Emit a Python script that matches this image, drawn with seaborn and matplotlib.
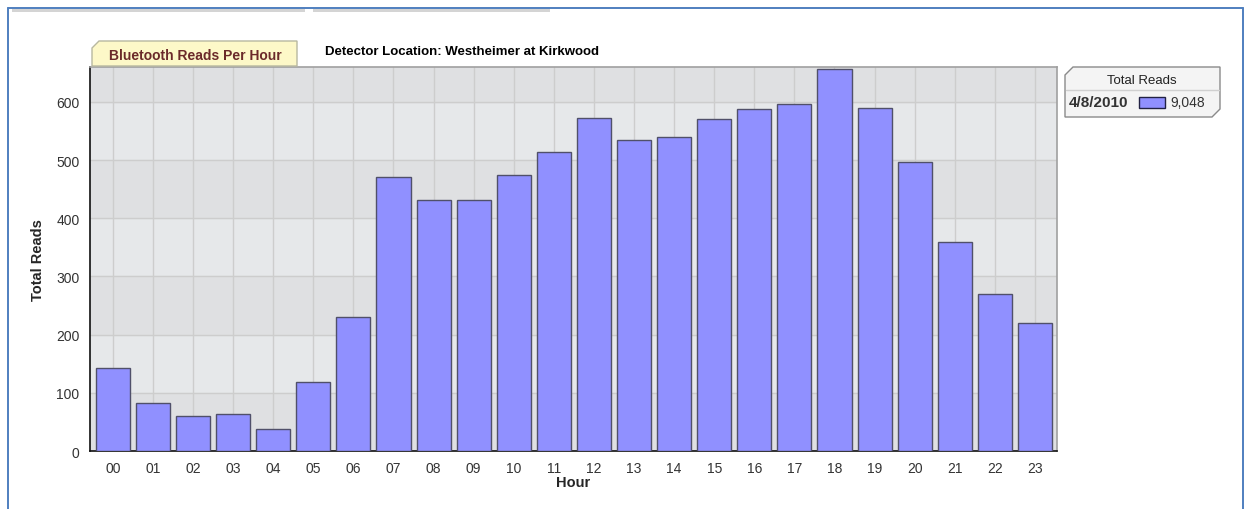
import numpy as np
import pandas as pd
import matplotlib
matplotlib.use("Agg")
import matplotlib.pyplot as plt
from matplotlib.patches import Polygon, Rectangle
from matplotlib.lines import Line2D
import seaborn as sns

# -----------------------------
# Data
# -----------------------------
hours = [f"{h:02d}" for h in range(24)]
total_reads = [143, 82, 61, 63, 38, 119, 230, 471, 431, 432, 474, 514,
               572, 534, 539, 570, 587, 596, 656, 589, 497, 360, 270, 220]
series_date = "4/8/2010"

data = pd.DataFrame({"Hour": hours, "Total Reads": total_reads})

# -----------------------------
# Style
# -----------------------------
sns.set_style("white")
plt.rcParams["font.family"] = ["Liberation Sans", "DejaVu Sans"]

fig = plt.figure(figsize=(12.5, 5.1), dpi=100)
ax = fig.add_axes([0.072, 0.1137, 0.7736, 0.753])

# banded background
ax.set_facecolor("#e6e8ea")
for lo in range(0, 700, 200):
    ax.axhspan(lo, lo + 100, color="#dfe0e2", zorder=0)
ax.axhspan(600, 700, color="#dfe0e2", zorder=0)

sns.barplot(data=data, x="Hour", y="Total Reads", color="#9090ff",
            saturation=1, width=0.85, edgecolor="#50506a", linewidth=1.0,
            ax=ax, zorder=3)

ax.set_ylim(0, 660)
ax.set_xlim(-0.57, 23.55)
ax.set_yticks(range(0, 700, 100))
ax.grid(True, color="#cdcdcd", linewidth=1.0, zorder=1)
ax.set_axisbelow(True)

ax.tick_params(axis="both", which="both", length=4, width=1, color="#222222",
               labelsize=10, labelcolor="#333333", direction="out")
ax.tick_params(axis="x", pad=3)

for side in ["left", "bottom"]:
    ax.spines[side].set_color("#111111")
    ax.spines[side].set_linewidth(1.2)
for side in ["top", "right"]:
    ax.spines[side].set_color("#a0a0a0")
    ax.spines[side].set_linewidth(1.2)

ax.set_xlabel("Hour", fontsize=10.5, fontweight="bold", labelpad=0)
ax.set_ylabel("Total Reads", fontsize=10.5, fontweight="bold", labelpad=8)

# -----------------------------
# Frame decorations
# -----------------------------
W, H = 1250, 510
def px(x, y):
    return (x / W, 1 - y / H)

blue = "#4f7fbf"
fig.add_artist(Line2D([px(8, 0)[0], px(1243, 0)[0]], [px(0, 9)[1]] * 2, color=blue, lw=1.4))
fig.add_artist(Line2D([px(8, 0)[0]] * 2, [px(0, 9)[1], 0], color=blue, lw=1.4))
fig.add_artist(Line2D([px(1243, 0)[0]] * 2, [px(0, 9)[1], 0], color=blue, lw=1.4))
for x0, x1 in [(12, 305), (313, 550)]:
    fig.add_artist(Rectangle(px(x0, 13), (x1 - x0) / W, 3 / H, color="#d4d4d4", lw=0))

# title tab
tab = Polygon([px(92, 67), px(92, 49), px(99, 42), px(297, 42), px(297, 67)],
              closed=True, facecolor="#fdf8c8", edgecolor="#b8b8a0", lw=1.0)
fig.add_artist(tab)
fig.text(*px(195, 56), "Bluetooth Reads Per Hour", ha="center", va="center",
         fontsize=10, fontweight="bold", color="#6b2a2a")
fig.text(*px(325, 52), "Detector Location: Westheimer at Kirkwood", ha="left",
         va="center", fontsize=9.5, fontweight="bold", color="#000000")

# legend box
leg = Polygon([px(1065, 118), px(1065, 76), px(1073, 68), px(1220, 68),
               px(1220, 110), px(1212, 118)], closed=True,
              facecolor="#f4f4f4", edgecolor="#8a8a8a", lw=1.0)
fig.add_artist(leg)
fig.add_artist(Line2D([px(1066, 0)[0], px(1219, 0)[0]], [px(0, 91)[1]] * 2,
                      color="#d0d0d0", lw=1.0))
fig.text(*px(1142, 81), "Total Reads", ha="center", va="center", fontsize=9.5,
         color="#222222")
fig.text(*px(1069, 103), series_date, ha="left", va="center", fontsize=11,
         fontweight="bold", color="#333333")
fig.add_artist(Rectangle(px(1139, 109), 26 / W, 11 / H, facecolor="#9090ff",
                         edgecolor="#222244", lw=1.0))
fig.text(*px(1170, 103), f"{sum(total_reads):,}", ha="left", va="center",
         fontsize=10, color="#333333")

fig.savefig("out.png", dpi=100, facecolor="white")
